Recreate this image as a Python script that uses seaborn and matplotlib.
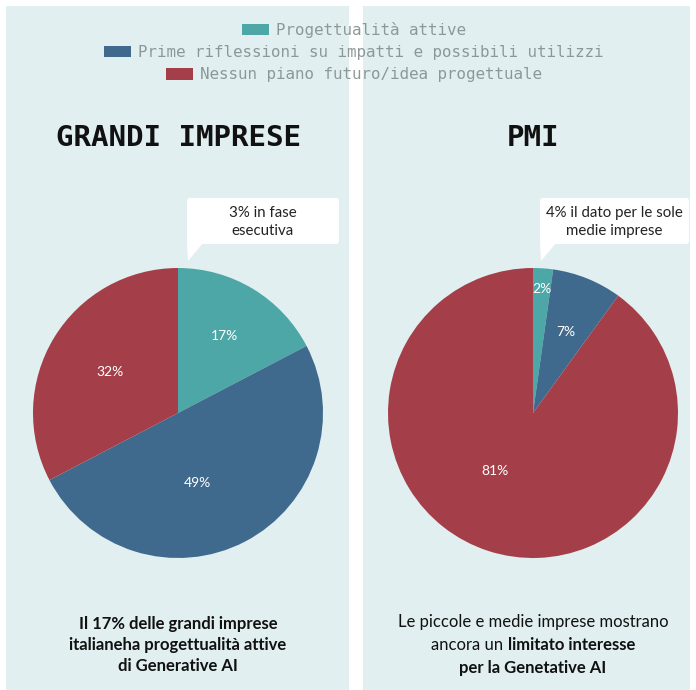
import matplotlib
matplotlib.use("Agg")
import numpy as np
import matplotlib.pyplot as plt
import seaborn as sns
from matplotlib.patches import Rectangle, Polygon, FancyBboxPatch

# data
categorie = ["Progettualità attive",
             "Prime riflessioni su impatti e possibili utilizzi",
             "Nessun piano futuro/idea progettuale"]
grandi = [17, 49, 32]
pmi = [2, 7, 81]
titoli = ["GRANDI IMPRESE", "PMI"]
note = ["3% in fase\nesecutiva", "4% il dato per le sole\nmedie imprese"]

colori = ["#4ea7a7", "#3f6a8d", "#a43f49"]
bg = "#e1eff0"
W, H = 696, 690

sns.set_theme(style="white")
plt.rcParams["font.family"] = ["Lato", "DejaVu Sans"]

fig = plt.figure(figsize=(W / 100, H / 100), dpi=100, facecolor="white")


def fx(x):
    return x / W


def fy(y):
    return 1 - y / H


# panel backgrounds
for x0, x1 in [(6, 349), (363, 690)]:
    fig.patches.append(Rectangle((fx(x0), 0), fx(x1 - x0), fy(6), transform=fig.transFigure,
                                 facecolor=bg, edgecolor="none", zorder=-5))

# legend, one centered row per category
for i, (cat, col) in enumerate(zip(categorie, colori)):
    h = Rectangle((0, 0), 1, 1, facecolor=col, edgecolor="none")
    leg = fig.legend([h], [cat], loc="center", bbox_to_anchor=(fx(354), fy(30 + i * 22.5)),
                     frameon=False, handlelength=1.7, handleheight=0.75, handletextpad=0.45,
                     prop={"family": "DejaVu Sans Mono", "size": 11.4}, borderpad=0)
    for t in leg.get_texts():
        t.set_color("#8c9898")

centri = [178, 533]
r = 145
# label distance and angle shift (deg) per wedge
distanze = [[0.62, 0.5, 0.55], [0.86, 0.6, 0.48]]
spost = [[0, -12, 0], [0, 0, -15]]
for k, (vals, cx) in enumerate(zip([grandi, pmi], centri)):
    ax = fig.add_axes([fx(cx - r * 1.03), fy(413 + r * 1.03), fx(2 * r * 1.03), 2 * r * 1.03 / H])
    ax.set_facecolor("none")
    ax.set_zorder(1)
    wedges, texts, autotexts = ax.pie(vals, colors=colori, startangle=90, counterclock=False,
                                      autopct="%d%%", pctdistance=0.6,
                                      wedgeprops={"linewidth": 0},
                                      textprops={"color": "white", "fontsize": 10})
    for w, t, v, d, s in zip(wedges, autotexts, vals, distanze[k], spost[k]):
        ang = np.deg2rad((w.theta1 + w.theta2) / 2 + s)
        t.set_position((d * np.cos(ang), d * np.sin(ang)))
        t.set_text(f"{v}%")
    ax.set_xlim(-1.03, 1.03)
    ax.set_ylim(-1.03, 1.03)
    ax.set_aspect("equal")
    ax.axis("off")

    fig.text(fx(cx), fy(138), titoli[k], ha="center", va="center",
             family="DejaVu Sans Mono", fontweight="bold", fontsize=21, color="#111111")

# callouts
for (bx0, bx1), testo in zip([(187, 339), (540, 689)], note):
    box = FancyBboxPatch((fx(bx0), fy(244)), fx(bx1 - bx0), (244 - 198) / H,
                         boxstyle="round,pad=0,rounding_size=0.004", transform=fig.transFigure,
                         facecolor="white", edgecolor="none", zorder=3)
    fig.patches.append(box)
    tail = Polygon([(fx(bx0), fy(243)), (fx(bx0 + 16), fy(243)), (fx(bx0 + 1), fy(261))],
                   closed=True, transform=fig.transFigure, facecolor="white", edgecolor="none", zorder=3)
    fig.patches.append(tail)
    fig.text(fx((bx0 + bx1) / 2), fy(222), testo, ha="center", va="center",
             fontsize=10.8, color="#222222", linespacing=1.45, zorder=4)

# bottom captions
fig.text(fx(178), fy(645), "Il 17% delle grandi imprese\nitalianeha progettualità attive\ndi Generative AI",
         ha="center", va="center", fontsize=12, fontweight="bold", color="#111111", linespacing=1.4)

fig.text(fx(533), fy(622), "Le piccole e medie imprese mostrano", ha="center", va="center",
         fontsize=12, color="#111111")
fig.text(fx(533), fy(668), "per la Genetative AI", ha="center", va="center",
         fontsize=12, fontweight="bold", color="#111111")

# mixed-weight middle line
r_ = fig.canvas.get_renderer()
a = fig.text(0, fy(645), "ancora un ", ha="left", va="center", fontsize=12, color="#111111")
b = fig.text(0, fy(645), "limitato interesse", ha="left", va="center", fontsize=12,
             fontweight="bold", color="#111111")
wa = a.get_window_extent(r_).width
wb = b.get_window_extent(r_).width
start = 533 - (wa + wb) / 2
a.set_x(fx(start))
b.set_x(fx(start + wa))

fig.savefig("out.png", dpi=100, facecolor="white")
